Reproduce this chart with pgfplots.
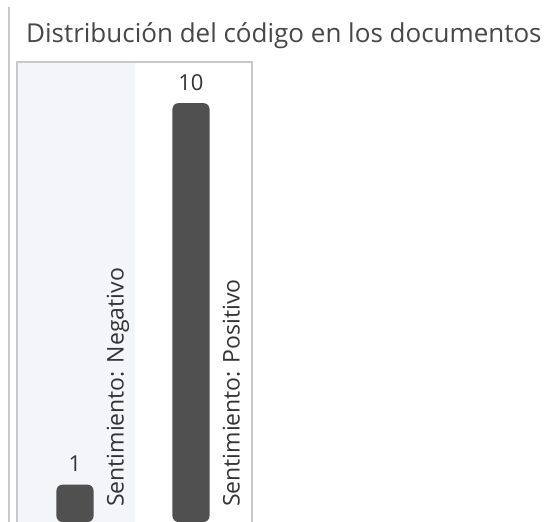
\documentclass[border=0pt]{standalone}
\usepackage{fontspec}
\setmainfont{Open Sans}
\usepackage{pgfplots}
\pgfplotsset{compat=1.18}
\definecolor{barc}{HTML}{505050}
\definecolor{shadec}{HTML}{F4F5F8}
\definecolor{framec}{HTML}{C8C8C8}
\definecolor{txt}{HTML}{333333}
\begin{document}
\begin{tikzpicture}[x=1pt,y=1pt]
\path[use as bounding box] (0,0) rectangle (549,522);
\draw[framec, line width=1.5] (9,-2) -- (9,515);
\node[anchor=base west, inner sep=0, font=\fontsize{26}{30}\selectfont, text=txt!90] at (26,479) {Distribución del código en los documentos};
\begin{axis}[at={(17pt,0pt)}, anchor=south west, scale only axis,
  width=235pt, height=460pt, name=ax,
  xmin=-0.5, xmax=1.526, ymin=0.12, ymax=10.97,
  hide axis, clip=false, ybar, bar width=0.32,
  /pgf/number format/assume math mode=true,
  nodes near coords,
  every node near coord/.append style={font=\fontsize{22}{24}\selectfont, text=txt, anchor=base, yshift=13pt},
]
\fill[shadec] (axis cs:-0.5,0.12) rectangle (axis cs:0.52,10.97);
\addplot[fill=barc, draw=none, rounded corners=6pt] coordinates {(0,1) (1,10)};
\node[rotate=90, anchor=base west, inner sep=0, font=\fontsize{23}{26}\selectfont, text=txt] at (axis cs:0.42,0.47) {Sentimiento: Negativo};
\node[rotate=90, anchor=base west, inner sep=0, font=\fontsize{23}{26}\selectfont, text=txt] at (axis cs:1.42,0.47) {Sentimiento: Positivo};
\end{axis}
\draw[framec, line width=1.5] (ax.south west) -- (ax.north west) -- (ax.north east) -- (ax.south east);
\end{tikzpicture}
\end{document}
